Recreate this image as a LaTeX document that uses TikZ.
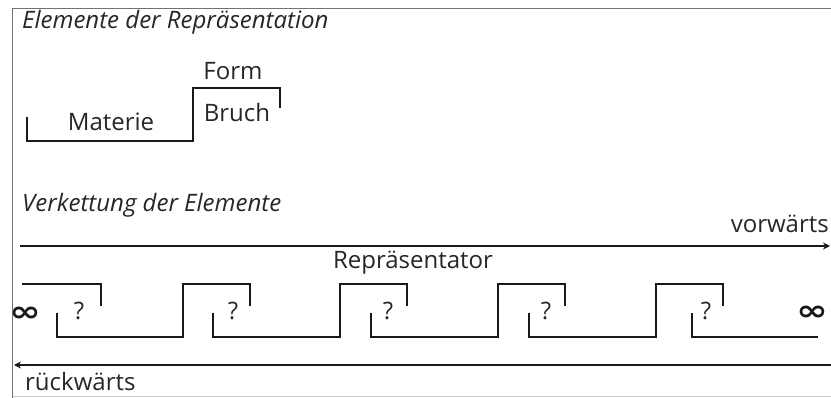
\documentclass[tikz,border=0pt]{standalone}
\usepackage{fontspec}
\usepackage{graphicx}
\setmainfont{Open Sans}
\newfontfamily\dvfont{DejaVu Sans}
\usetikzlibrary{arrows.meta}
\newcommand{\myinf}{\scalebox{1.45}[1.1]{\dvfont\bfseries ∞}}
\begin{document}
\begin{tikzpicture}[x=1pt,y=-1pt,
  txt/.style={inner sep=0pt,text=black!85,font=\fontsize{24}{28}\selectfont},
  itxt/.style={txt,font=\fontsize{24}{28}\selectfont\itshape},
  inf/.style={inner sep=0pt,text=black!90,font=\fontsize{26}{30}\selectfont},
  ln/.style={line width=1.4pt,black!90},
  frame/.style={line width=1.2pt,black!55}]
\useasboundingbox (0,0) rectangle (831,398);
% frame
\draw[frame] (831,8.5) -- (12.5,8.5) -- (12.5,398);
\draw[line width=1pt,black!20] (12.5,396.5) -- (831,396.5);
% top section
\node[itxt,anchor=west] (t1) at (22,22) {Elemente der Repräsentation};
\node[txt] (form) at (233,71) {Form};
\node[txt] (mat) at (111,122) {Materie};
\node[txt] (bruch) at (237,113) {Bruch};
\draw[ln] (27,117) -- (27,141) -- (193,141) -- (193,88) -- (280,88) -- (280,108);
% chain section
\node[itxt,anchor=west] (t2) at (22,205) {Verkettung der Elemente};
\coordinate (fa) at (20,246);
\coordinate (fb) at (830,246);
\draw[ln,-{Stealth[length=7pt,width=7pt]}] (fa) -- (fb);
\node[txt,anchor=east] (vor) at (829,224) {vorwärts};
\node[txt] (rep) at (413,263) {Repräsentator};
\draw[ln] (22,284) -- (101,284) -- (101,306);
\foreach \b/\r/\t in {57/183/250, 213/340/407, 371/498/565, 529/656/723}{
  \draw[ln] (\b,313) -- (\b,337) -- (\r,337) -- (\r,284) -- (\t,284) -- (\t,306);
}
\draw[ln] (692,313) -- (692,337) -- (818,337);
\foreach \x/\n in {79/q1, 233/q2, 388/q3, 546/q4, 706/q5}{
  \node[txt] (\n) at (\x,311) {?};
}
\node[inf] (inf1) at (25,314) {\myinf};
\node[inf] (inf2) at (812,313) {\myinf};
\coordinate (ba) at (831,365);
\coordinate (bb) at (14,365);
\draw[ln,-{Stealth[length=7pt,width=7pt]}] (ba) -- (bb);
\node[txt,anchor=west] (rue) at (25,382) {rückwärts};
\end{tikzpicture}
\end{document}
